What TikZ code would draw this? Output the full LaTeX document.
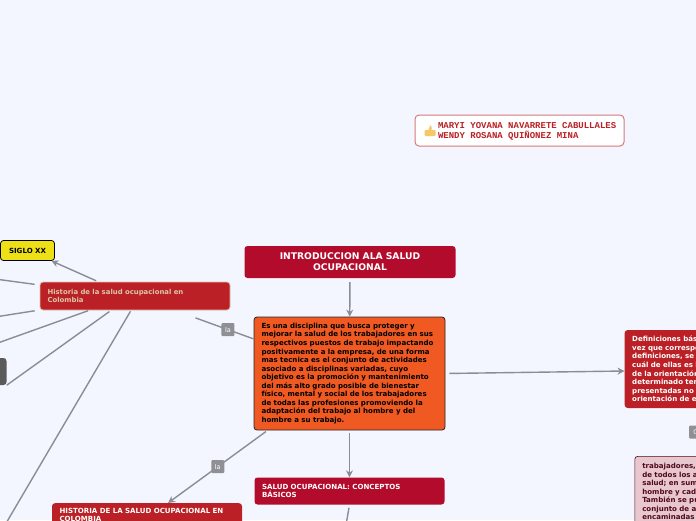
\documentclass[tikz,border=0pt]{standalone}
\usepackage{fontspec}
\setmainfont{DejaVu Sans}
\setmonofont{Liberation Mono}
\usepackage{xcolor}
\definecolor{PageBG}{HTML}{F3F6FF}
\definecolor{TitleRed}{HTML}{B20B2B}
\definecolor{BrickRed}{HTML}{BA2025}
\definecolor{MainOrange}{HTML}{F05A22}
\definecolor{SigloYellow}{HTML}{EDE016}
\definecolor{LinkGrey}{HTML}{8A8D96}
\definecolor{LabelGrey}{HTML}{8F9095}
\definecolor{PinkBG}{HTML}{E8C8CE}
\definecolor{PinkInk}{HTML}{4F0A1C}
\definecolor{DarkGrey}{HTML}{5A5A5A}
\definecolor{TanEdge}{HTML}{DCC7A8}
\definecolor{ThumbAmber}{HTML}{F6C667}
\usetikzlibrary{positioning, arrows.meta}

\begin{document}
\begin{tikzpicture}[
    x=1pt, y=-1pt, >={Stealth[length=7pt,width=7pt]},
    box/.style={rounded corners=3pt, align=left, font=\fontsize{7.05}{8.55}\selectfont\bfseries, inner xsep=7.5pt, inner ysep=0pt, text width=#1},
    lab/.style={fill=LabelGrey, rounded corners=1pt, text=white, font=\fontsize{6.5}{7}\selectfont, minimum width=13pt, minimum height=13pt, inner sep=0pt},
    arr/.style={->, LinkGrey, line width=1.4pt},
    link/.style={LinkGrey, line width=1.4pt}
]
\useasboundingbox (0,0) rectangle (696,520);
\clip (0,0) rectangle (696,520);
\fill[PageBG] (0,0) rectangle (696,520);
% authors
\node[draw=BrickRed!60, line width=1pt, fill=white, rounded corners=4pt, minimum height=31pt, text width=195pt, inner xsep=7pt, inner ysep=0pt, align=left, text=BrickRed, font=\fontsize{9}{9.6}\selectfont\ttfamily\bfseries] (authors) at (519.5,130.5) {\spaceskip=5.4pt\rule{0pt}{8pt}\hspace*{16pt}MARYI YOVANA NAVARRETE CABULLALES\\\hspace*{16pt}WENDY ROSANA QUIÑONEZ MINA};
\fill[ThumbAmber, rounded corners=1pt] (424.5,130) rectangle (435.5,136) (428,130) -- (431,124.5) -- (432,130) -- cycle;
% central column
\node[box=196pt, fill=TitleRed, text=white, minimum height=32pt, align=center, font=\fontsize{9.2}{11}\selectfont\bfseries] (intro) at (350,262) {INTRODUCCION ALA SALUD\\OCUPACIONAL};
\node[box=176pt, fill=MainOrange, draw=black!85, line width=.8pt, minimum height=113pt] (main) at (349.5,373.5) {Es una disciplina que busca proteger y\\mejorar la salud de los trabajadores en sus\\respectivos puestos de trabajo impactando\\positivamente a la empresa, de una forma\\mas tecnica es el conjunto de actividades\\asociado a disciplinas variadas, cuyo\\objetivo es la promoción y mantenimiento\\del más alto grado posible de bienestar\\físico, mental y social de los trabajadores\\de todas las profesiones promoviendo la\\adaptación del trabajo al hombre y del\\hombre a su trabajo.};
\node[box=175pt, fill=TitleRed, text=white, minimum height=27pt] (conceptos) at (349.5,491) {SALUD OCUPACIONAL: CONCEPTOS\\BÁSICOS};
% left side
\node[box=175pt, fill=BrickRed, draw=TanEdge, line width=.8pt, minimum height=28pt, text=TanEdge, font=\fontsize{6.9}{8.55}\selectfont\bfseries] (historia) at (135,296) {Historia de la salud ocupacional en\\Colombia};
\node[box=39pt, fill=SigloYellow, draw=black, line width=.8pt, minimum height=20pt, align=center] (siglo) at (27.5,250.5) {SIGLO XX};
\node[rounded corners=3pt, fill=DarkGrey, minimum width=20pt, minimum height=27pt, inner sep=0pt] (dark) at (-3.5,371.5) {};
\node[box=175pt, fill=BrickRed, text=white, inner ysep=5pt, anchor=north] (hiscol) at (147,503) {HISTORIA DE LA SALUD OCUPACIONAL EN\\COLOMBIA};
% right side
\node[box=150pt, fill=BrickRed, text=white, minimum height=78pt, anchor=west] (defin) at (624.5,369) {Definiciones bás\\vez que correspo\\definiciones, se d\\cuál de ellas es la\\de la orientación\\determinado tem\\presentadas no s\\orientación de es};
\node[box=150pt, fill=PinkBG, draw=PinkInk, line width=.6pt, text=PinkInk, inner ysep=7pt, anchor=north west] (trab) at (634.5,456) {trabajadores,\\de todos los a\\salud; en sum\\hombre y cad\\También se pu\\conjunto de a\\encaminadas};
% free ends
\coordinate (off1) at (-5,279);
\coordinate (off2) at (-5,317);
\coordinate (off3) at (-5,344);
\coordinate (off5) at (5,525);
\coordinate (off6) at (346,525);
% connectors
\draw[arr, shorten <=4pt] (intro) -- (main);
\draw[arr, shorten <=3pt] (main) -- (conceptos);
\draw[arr, shorten <=4pt] (main.east) -- ([yshift=-2pt]defin.west);
\draw[link, shorten <=22pt] (historia) -- (main) node[pos=.675, lab] (la1) {la};
\draw[arr, shorten <=2pt] ([xshift=-82pt]main.south) -- ([xshift=21pt]hiscol.north) node[pos=.5, lab] (la2) {la};
\draw[arr, shorten <=2pt] ([xshift=-37pt]historia.north) -- ([xshift=24pt]siglo.south);
\draw[link, shorten <=5pt] ([yshift=11pt]historia.west) -- (off1);
\draw[link, shorten <=5pt] ([yshift=-14pt]historia.west) -- (off2);
\draw[link, shorten <=1pt] ([xshift=-46pt]historia.south) -- (off3);
\draw[link, shorten <=2pt] ([xshift=-24pt]historia.south) -- (dark.south east);
\draw[link, shorten <=1pt] ([xshift=-4pt]historia.south) -- (off5);
\draw[link, shorten <=3pt] (conceptos.south) -- (off6);
\node[lab, anchor=west] (la3) at (689,432) {C};
\end{tikzpicture}
\end{document}
